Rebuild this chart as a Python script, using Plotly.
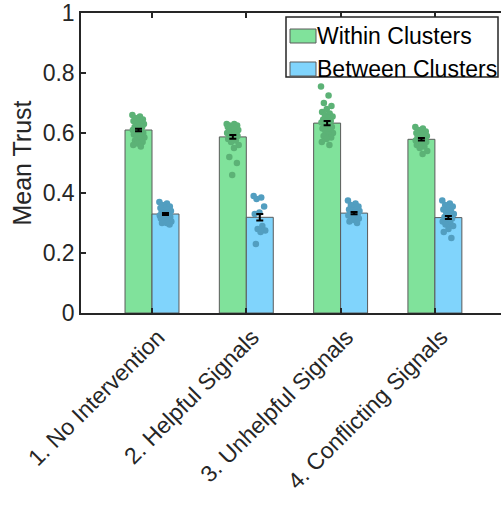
import plotly.graph_objects as go

# ---------------- data ----------------
categories = ["1. No Intervention", "2. Helpful Signals", "3. Unhelpful Signals", "4. Conflicting Signals"]
series_names = ["Within Clusters", "Between Clusters"]
within_mean = [0.610, 0.587, 0.633, 0.579]
between_mean = [0.330, 0.319, 0.333, 0.318]
within_sem = [0.004, 0.006, 0.007, 0.004]
between_sem = [0.003, 0.011, 0.004, 0.005]

within_points = [
    [0.66, 0.655, 0.65, 0.645, 0.64, 0.64, 0.635, 0.63, 0.63, 0.625, 0.62, 0.62, 0.615, 0.61,
     0.61, 0.605, 0.60, 0.60, 0.595, 0.59, 0.59, 0.585, 0.58, 0.575, 0.57, 0.565, 0.56, 0.555],
    [0.63, 0.63, 0.625, 0.625, 0.62, 0.62, 0.615, 0.615, 0.61, 0.61, 0.605, 0.60, 0.60, 0.60,
     0.595, 0.59, 0.59, 0.585, 0.58, 0.575, 0.57, 0.56, 0.55, 0.52, 0.50, 0.46],
    [0.755, 0.725, 0.70, 0.69, 0.68, 0.67, 0.665, 0.66, 0.655, 0.65, 0.645, 0.64, 0.64, 0.635,
     0.63, 0.625, 0.62, 0.62, 0.615, 0.61, 0.605, 0.60, 0.595, 0.59, 0.585, 0.58, 0.57, 0.56],
    [0.62, 0.615, 0.61, 0.605, 0.60, 0.60, 0.595, 0.59, 0.59, 0.585, 0.585, 0.58, 0.58, 0.575,
     0.575, 0.57, 0.57, 0.565, 0.56, 0.555, 0.55, 0.54, 0.53],
]
between_points = [
    [0.37, 0.365, 0.36, 0.355, 0.35, 0.35, 0.345, 0.34, 0.34, 0.335, 0.335, 0.33, 0.33, 0.325,
     0.325, 0.32, 0.32, 0.315, 0.315, 0.31, 0.31, 0.305, 0.30, 0.30, 0.295],
    [0.39, 0.385, 0.38, 0.355, 0.335, 0.33, 0.29, 0.28, 0.275, 0.27, 0.23],
    [0.375, 0.365, 0.36, 0.355, 0.35, 0.345, 0.345, 0.34, 0.34, 0.335, 0.335, 0.33, 0.33, 0.325,
     0.325, 0.32, 0.315, 0.31, 0.305, 0.30],
    [0.375, 0.365, 0.36, 0.355, 0.35, 0.345, 0.34, 0.335, 0.33, 0.325, 0.32, 0.315, 0.31, 0.305,
     0.30, 0.295, 0.29, 0.28, 0.27, 0.25],
]

y_ticks = [0, 0.2, 0.4, 0.6, 0.8, 1]
y_tick_labels = ["0", "0.2", "0.4", "0.6", "0.8", "1"]
y_title = "Mean Trust"

# ---------------- style ----------------
FONT = "Liberation Sans, Arial, Helvetica, sans-serif"
AX = "#262626"
GREEN_BAR = "rgb(128,226,155)"
BLUE_BAR = "rgb(128,212,252)"
GREEN_DOT = "rgb(92,178,118)"
BLUE_DOT = "rgb(82,158,192)"
BAR_W = 0.286
W, H = 501, 505
ML, MR, MT, MB = 81, 0, 13, 192
PW, PH = W - ML - MR, H - MT - MB
UNIT = 94.3  # px per category
xpos = list(range(1, len(categories) + 1))


def jitter(k):
    return (((k * 0.618034) % 1.0) - 0.5) * 0.13


fig = go.Figure()

fig.add_trace(go.Bar(x=xpos, y=within_mean, width=BAR_W, offset=-BAR_W,
                     marker=dict(color=GREEN_BAR, line=dict(color="#5a5a5a", width=1)),
                     name=series_names[0], showlegend=False))
fig.add_trace(go.Bar(x=xpos, y=between_mean, width=BAR_W, offset=0,
                     marker=dict(color=BLUE_BAR, line=dict(color="#5a5a5a", width=1)),
                     name=series_names[1], showlegend=False))

for i, (wp, bp) in enumerate(zip(within_points, between_points)):
    cx = xpos[i]
    fig.add_trace(go.Scatter(x=[cx - BAR_W / 2 + jitter(k) for k in range(len(wp))], y=wp,
                             mode="markers", marker=dict(size=6.5, color=GREEN_DOT),
                             showlegend=False, hoverinfo="y"))
    fig.add_trace(go.Scatter(x=[cx + BAR_W / 2 + jitter(k) for k in range(len(bp))], y=bp,
                             mode="markers", marker=dict(size=6.5, color=BLUE_DOT),
                             showlegend=False, hoverinfo="y"))

fig.add_trace(go.Scatter(x=[c - BAR_W / 2 for c in xpos], y=within_mean, mode="markers",
                         marker=dict(size=1, color="rgba(0,0,0,0)"), showlegend=False,
                         error_y=dict(type="data", array=within_sem, color="black", thickness=2, width=3.5)))
fig.add_trace(go.Scatter(x=[c + BAR_W / 2 for c in xpos], y=between_mean, mode="markers",
                         marker=dict(size=1, color="rgba(0,0,0,0)"), showlegend=False,
                         error_y=dict(type="data", array=between_sem, color="black", thickness=2, width=3.5)))

x0 = 1 - (152 - ML) / UNIT
fig.update_xaxes(range=[x0, x0 + PW / UNIT], tickvals=xpos, ticktext=categories, tickangle=-45,
                 ticks="inside", ticklen=5, tickwidth=1.5, tickcolor=AX, showline=True, linecolor=AX,
                 linewidth=1.5, mirror="ticks", showgrid=False, zeroline=False,
                 ticklabelshift=6,
                 tickfont=dict(family=FONT, size=23, color=AX))
fig.update_yaxes(range=[0, 1], tickvals=y_ticks, ticktext=y_tick_labels, ticks="inside", ticklen=5,
                 tickwidth=1.5, tickcolor=AX, showline=True, linecolor=AX, linewidth=1.5,
                 showgrid=False, zeroline=False, tickfont=dict(family=FONT, size=23, color=AX),
                 title=dict(text=y_title, font=dict(family=FONT, size=25, color=AX), standoff=4))


def px(x):
    return (x - ML) / PW


def py(y):
    return (H - MB - y) / PH


shapes = [
    dict(type="rect", xref="paper", yref="paper", x0=px(286), x1=px(498), y0=py(77), y1=py(17),
         line=dict(color=AX, width=1.5), fillcolor="white", layer="above"),
    dict(type="rect", xref="paper", yref="paper", x0=px(290), x1=px(316), y0=py(43), y1=py(29),
         line=dict(color="#5a5a5a", width=1), fillcolor=GREEN_BAR, layer="above"),
    dict(type="rect", xref="paper", yref="paper", x0=px(290), x1=px(316), y0=py(76), y1=py(62),
         line=dict(color="#5a5a5a", width=1), fillcolor=BLUE_BAR, layer="above"),
]
annotations = [
    dict(xref="paper", yref="paper", x=px(315), y=py(36), text=series_names[0], showarrow=False,
         xanchor="left", yanchor="middle", font=dict(family=FONT, size=23, color="black")),
    dict(xref="paper", yref="paper", x=px(315), y=py(69), text=series_names[1], showarrow=False,
         xanchor="left", yanchor="middle", font=dict(family=FONT, size=23, color="black")),
]

fig.update_layout(width=W, height=H, margin=dict(l=ML, r=MR, t=MT, b=MB, autoexpand=False),
                  plot_bgcolor="white", paper_bgcolor="white", showlegend=False,
                  shapes=shapes, annotations=annotations, barmode="overlay")

fig.write_html("out.html", config={"displayModeBar": False},
               post_script="document.body.style.margin='0px';document.body.style.overflow='hidden';"
                           "document.documentElement.style.overflow='hidden';")
